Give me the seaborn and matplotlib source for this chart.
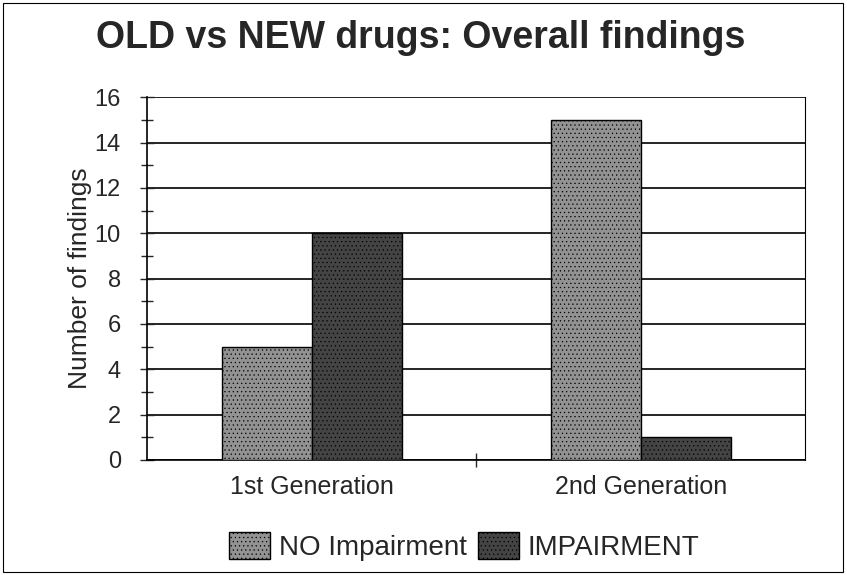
import pandas as pd
import matplotlib
matplotlib.use("Agg")
import matplotlib.pyplot as plt
from matplotlib.patches import Rectangle
from matplotlib.ticker import MultipleLocator
import seaborn as sns

sns.set_style("white")
plt.rcParams['font.family'] = ['Liberation Sans', 'DejaVu Sans']
plt.rcParams['hatch.color'] = '#2a2a2a'
plt.rcParams['hatch.linewidth'] = 0.4

generations = ["1st Generation", "2nd Generation"]
series = ["NO Impairment", "IMPAIRMENT"]
no_impairment = [5, 15]
impairment = [10, 1]

df = pd.DataFrame({
    "generation": generations * 2,
    "finding": [series[0]] * 2 + [series[1]] * 2,
    "count": no_impairment + impairment,
})

fig, ax = plt.subplots(figsize=(8.47, 5.75), dpi=100)
fig.subplots_adjust(left=0.174, right=0.951, top=0.831, bottom=0.2)

sns.barplot(data=df, x="generation", y="count", hue="finding",
            palette=["#929292", "#444444"], width=0.545,
            edgecolor="black", linewidth=1.0, ax=ax, zorder=3)
for bar in ax.patches:
    bar.set_hatch("....")
    bar.set_zorder(3)

ax.set_ylim(0, 16)
ax.set_xlim(-0.5, 1.5)
ax.yaxis.set_major_locator(MultipleLocator(2))
ax.yaxis.set_minor_locator(MultipleLocator(1))
ax.grid(axis="y", which="major", color="black", linewidth=1.2, zorder=0)
ax.set_axisbelow(True)
ax.tick_params(axis="y", which="major", direction="inout", length=10, width=1, labelsize=17, left=True, pad=14)
ax.tick_params(axis="y", which="minor", direction="inout", length=8, width=1, left=True)
ax.set_xticks([0.5], minor=True)
ax.tick_params(axis="x", which="minor", direction="inout", length=10, width=1, bottom=True)
ax.tick_params(axis="x", which="major", length=0, labelsize=18, pad=11)
for s in ["left", "bottom", "right"]:
    ax.spines[s].set_color("black")
    ax.spines[s].set_linewidth(1.2)
ax.spines["top"].set_visible(False)
ax.spines["right"].set_linewidth(0.8)

ax.set_xlabel("")
ax.set_ylabel("Number of findings", fontsize=19, labelpad=2)
fig.suptitle("OLD vs NEW drugs: Overall findings", fontsize=27, fontweight="bold",
             x=0.497, y=0.965)

ax.legend(loc="center", bbox_to_anchor=(0.548, 0.05), bbox_transform=fig.transFigure,
          ncol=2, frameon=False, fontsize=20, handlelength=1.5, handleheight=1.1,
          handletextpad=0.3, columnspacing=0.4)

fig.patches.append(Rectangle((0.004, 0.005), 0.991, 0.99, transform=fig.transFigure,
                             fill=False, edgecolor="black", linewidth=0.8))

plt.savefig("out.png", dpi=100)
plt.close()
